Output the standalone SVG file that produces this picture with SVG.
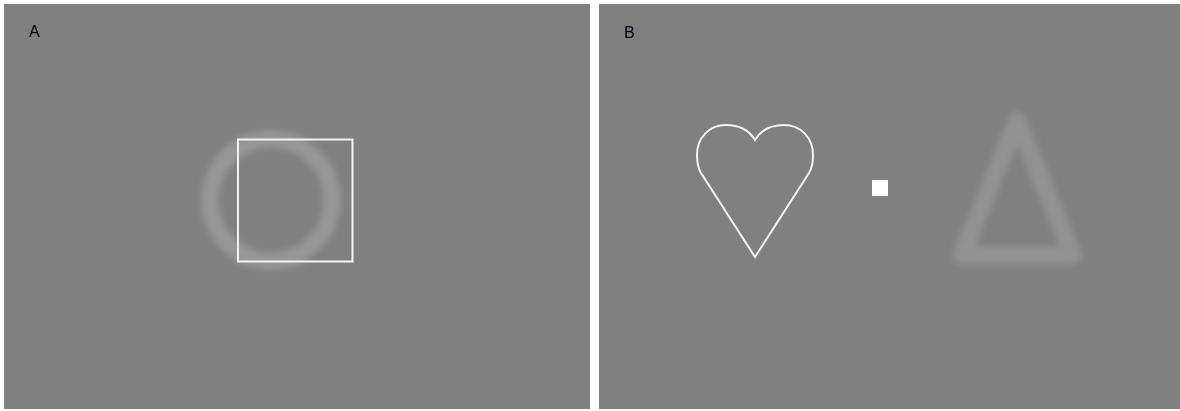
<svg xmlns="http://www.w3.org/2000/svg" width="1180" height="411" viewBox="0 0 1180 411">
  <defs>
    <filter id="blur" x="-20%" y="-20%" width="140%" height="140%">
      <feGaussianBlur stdDeviation="3"/>
    </filter>
    <style>
      .panel { fill: #808080; }
      .label { font-family: "Liberation Sans", Arial, sans-serif; font-size: 16px; fill: #000; }
      .crisp { fill: none; stroke: #f4f4f4; stroke-width: 2; }
      .faint { fill: none; stroke: #979797; stroke-width: 17; filter: url(#blur); }
      .faint2 { fill: none; stroke: #929292; stroke-width: 18; filter: url(#blur); }
    </style>
  </defs>
  <rect x="0" y="0" width="1180" height="411" fill="#ffffff"/>
  <g id="panelA">
    <rect class="panel" x="4" y="4" width="586" height="405"/>
    <text class="label" x="29" y="37">A</text>
    <circle class="faint" cx="271" cy="200" r="61"/>
    <rect class="crisp" x="238" y="139.5" width="114.5" height="122"/>
  </g>
  <g id="panelB">
    <rect class="panel" x="599" y="4" width="581" height="405"/>
    <text class="label" x="624" y="38">B</text>
    <path class="crisp" d="M755,140 C749,130 738,125 726,125 C709,125 697,138 697,155 C697,162 698,168 701,173 L755,257 L809,173 C812,168 813,162 813,155 C813,138 801,125 784,125 C772,125 761,130 755,140 Z"/>
    <rect x="872" y="180" width="16" height="16" fill="#ffffff"/>
    <polygon class="faint2" points="1017,121 962,255 1073,255" stroke-linejoin="round"/>
  </g>
  <g id="connectors"></g>
</svg>
